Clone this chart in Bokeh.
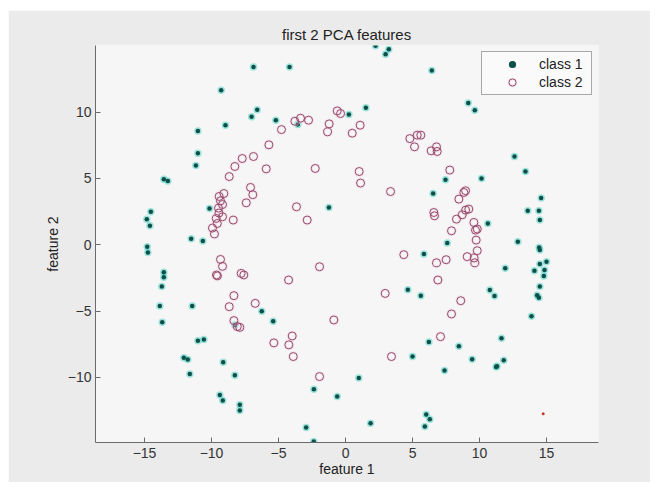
from bokeh.plotting import figure
from bokeh.models import Legend, LegendItem, FixedTicker, ColumnDataSource
from bokeh.embed import file_html
from bokeh.resources import INLINE

# ---- data ----
class1_x = [-6.87, -9.28, -6.59, -7.01, -8.96, -11.02, -11.02, -11.17, -13.56, -13.26,
            2.24, 3.23, 2.99, -4.18, 6.44, 1.52, 0.25, -5.2, -3.56,
            9.16, 9.65, 12.61, 13.43, 7.46, 10.15,
            -14.53, -14.83, -14.6, -10.15, -11.52, -10.65, -14.8, -14.75, -13.56, -13.56, -13.71, -13.86, -11.44,
            6.54, -1.24, 5.85, 4.65, 5.62,
            14.6, 13.6, 14.43, 14.5, 10.62, 12.86, 7.59, 14.45, 14.5, 15.0, 14.5, 14.1, 14.85, 11.92, 14.8, 14.5,
            10.77, 11.12, 14.3, 14.43,
            -13.68, -11.02, -10.57, -12.07, -11.77, -11.62, -6.25, -9.13, -8.26, -9.38, -9.16, -7.89, -7.89, -8.26,
            -5.4, 6.22, 5.0, 0.99, -2.36, -0.62, 1.87, -2.94, -2.37, 6.02, 6.29, 5.92,
            13.88, 11.64, 8.46, 9.45, 11.81, 11.24, 11.3, 7.39]
class1_y = [13.4, 11.65, 10.17, 9.64, 9.01, 8.58, 6.9, 5.97, 4.94, 4.8,
            15.0, 14.73, 14.36, 13.4, 13.13, 10.32, 9.81, 9.39, 9.06,
            10.69, 10.14, 6.65, 5.52, 4.89, 4.99,
            2.48, 1.93, 1.43, 2.73, 0.45, 0.28, -0.15, -0.58, -2.08, -2.46, -3.14, -4.62, -4.62,
            3.86, 2.81, -0.7, -3.39, -3.84,
            3.52, 2.56, 2.56, 1.86, 1.6, 0.23, 0.13, -0.2, -0.4, -1.28, -1.45, -1.96, -1.9, -1.78, -2.36, -3.14,
            -3.41, -3.86, -3.81, -3.99,
            -5.85, -7.23, -7.15, -8.53, -8.66, -9.74, -5.02, -8.86, -9.84, -11.32, -11.75, -12.07, -12.5, -6.05,
            -5.77, -7.33, -8.43, -10.04, -10.9, -11.45, -13.46, -13.78, -14.83, -12.8, -13.16, -13.7,
            -5.4, -7.05, -7.66, -8.64, -8.71, -9.21, -9.16, -9.49]

class2_x = [-5.72, -7.71, -6.87, -8.26, -5.92, -8.68,
            -0.62, -0.37, -3.78, -3.36, -2.76, -1.22, -1.34, 1.09, 0.5, -4.78, 4.8, 5.35, 5.62, 5.15, 6.79, 6.39,
            6.84, -2.26, 1.02,
            7.78,
            -7.09, -6.92, -7.41, -9.08, -9.43, -9.33, -9.18, -9.48, -9.45, -9.18, -9.65, -8.38, -9.57, -9.93,
            -9.78, -9.33, -9.18, -9.63, -9.56, -7.79, -7.59, -8.33, -8.68, -6.74,
            1.12, 3.36, -3.66, -2.86, 6.59, 6.64, 4.35, 6.79, 6.89, -1.94, -4.25, 2.96,
            8.96, 8.83, 8.46, 9.2, 8.96, 8.71, 8.28, 9.58, 9.83, 9.7, 7.91, 9.75, 9.83, 9.08, 9.6, 7.51, 9.65, 8.6,
            -8.33, -8.08, -7.89,
            -0.87, -3.98, -5.35, -4.23, -3.9, -1.94, 3.43,
            7.91, 7.09]
class2_y = [7.53, 6.5, 6.65, 5.9, 5.72, 5.14,
            10.09, 9.89, 9.31, 9.54, 9.39, 9.11, 8.51, 9.01, 8.41, 8.68, 8.0, 8.26, 8.26, 7.38, 7.38, 7.08,
            7.03, 5.75, 5.52,
            5.63,
            4.32, 3.77, 3.16, 3.86, 3.64, 3.31, 3.03, 2.76, 2.39, 2.11, 1.98, 1.86, 1.6, 1.26,
            0.81, -1.11, -1.63, -2.28, -2.35, -2.16, -2.28, -3.84, -4.67, -4.42,
            4.65, 4.01, 2.86, 1.86, 2.43, 2.18, -0.75, -1.36, -2.66, -1.66, -2.66, -3.67,
            4.07, 3.94, 3.44, 2.69, 2.61, 2.26, 1.93, 1.68, 1.18, 1.1, 1.05, 0.35, -0.45, -0.9, -1.0, -1.13, -1.36, -4.22,
            -5.72, -6.17, -6.23,
            -5.67, -6.88, -7.4, -7.55, -8.43, -9.94, -8.43,
            -5.22, -6.93]

stray_x = [14.75]
stray_y = [-12.75]

x_ticks = [-15, -10, -5, 0, 5, 10, 15]
y_ticks = [-10, -5, 0, 5, 10]
x_tick_labels = ["\u221215", "\u221210", "\u22125", "0", "5", "10", "15"]
y_tick_labels = ["\u221210", "\u22125", "0", "5", "10"]

FONT = "Liberation Sans"

p = figure(frame_width=503, frame_height=397,
           min_border_left=87, min_border_right=52, min_border_top=35, min_border_bottom=40,
           margin=(10, 7, 10, 8),
           x_range=(-18.66, 18.88), y_range=(-14.91, 15.02),
           output_backend="svg", toolbar_location=None,
           title="first 2 PCA features")

p.border_fill_color = "#ebebeb"
p.background_fill_color = "#f6f6f6"
p.outline_line_color = None
p.xgrid.visible = False
p.ygrid.visible = False

p.title.align = "center"
p.title.text_font = FONT
p.title.text_font_size = "15px"
p.title.text_font_style = "normal"
p.title.text_color = "#222222"
p.title.standoff = 6

for ax, ticks, labels in ((p.xaxis, x_ticks, x_tick_labels), (p.yaxis, y_ticks, y_tick_labels)):
    ax.ticker = FixedTicker(ticks=ticks)
    ax.major_label_overrides = {t: l for t, l in zip(ticks, labels)}
    ax.axis_line_color = "#6a6a6a"
    ax.major_tick_line_color = "#6a6a6a"
    ax.major_tick_in = 5
    ax.major_tick_out = 0
    ax.minor_tick_line_color = None
    ax.major_label_text_font = FONT
    ax.major_label_text_font_size = "14px"
    ax.major_label_text_color = "#333333"
    ax.axis_label_text_font = FONT
    ax.axis_label_text_font_size = "14px"
    ax.axis_label_text_font_style = "normal"
    ax.axis_label_text_color = "#222222"

p.xaxis.axis_label = "feature 1"
p.yaxis.axis_label = "feature 2"
p.xaxis.major_label_standoff = 5
p.xaxis.axis_label_standoff = 0
p.yaxis.major_label_standoff = 4
p.yaxis.axis_label_standoff = 4

src1 = ColumnDataSource(dict(x=class1_x, y=class1_y))
src2 = ColumnDataSource(dict(x=class2_x, y=class2_y))

h1 = p.scatter("x", "y", source=src1, size=7.5, marker="circle",
               fill_color="#46d2c2", fill_alpha=0.5, line_color=None)
c1 = p.scatter("x", "y", source=src1, size=4.5, marker="circle",
               fill_color="#0e4f49", line_color=None)
h2 = p.scatter("x", "y", source=src2, size=8, marker="circle",
               fill_color=None, line_color="#f0c8d8", line_width=3, line_alpha=0.35)
c2 = p.scatter("x", "y", source=src2, size=8, marker="circle",
               fill_color=None, line_color="#944a6e", line_width=1)
p.scatter(stray_x, stray_y, size=3, marker="circle", fill_color="#c0392b", line_color=None)

legend = Legend(items=[LegendItem(label="class 1", renderers=[h1, c1]),
                       LegendItem(label="class 2", renderers=[h2, c2])],
                location="top_right")
legend.margin = 6
legend.padding = 3
legend.spacing = 0
legend.glyph_width = 54
legend.glyph_height = 18
legend.label_height = 18
legend.label_width = 49
legend.label_standoff = 0
legend.label_text_font = FONT
legend.label_text_font_size = "14px"
legend.label_text_color = "#222222"
legend.border_line_color = "#555555"
legend.border_line_width = 1
legend.background_fill_color = "#fafafa"
legend.background_fill_alpha = 1.0
p.add_layout(legend)

open("out.html", "w").write(file_html(p, INLINE))
